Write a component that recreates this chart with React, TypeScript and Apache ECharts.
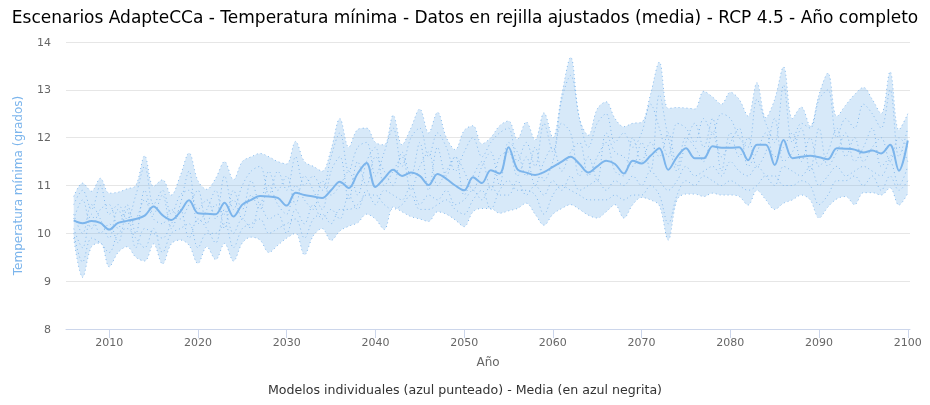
import React, { useEffect, useRef } from "react";
import * as echarts from "echarts";

const titleText = "Escenarios AdapteCCa - Temperatura mínima - Datos en rejilla ajustados (media) - RCP 4.5 - Año completo";
const yAxisTitle = "Temperatura mínima (grados)";
const xAxisTitle = "Año";
const footerText = "Modelos individuales (azul punteado) - Media (en azul negrita)";

const firstYear = 2006;
const xTickYears = [2010, 2020, 2030, 2040, 2050, 2060, 2070, 2080, 2090, 2100];

const mean = [
  10.27, 10.21, 10.26, 10.22, 10.08, 10.22, 10.26, 10.30, 10.37, 10.56,
  10.38, 10.28, 10.45, 10.69, 10.42, 10.41, 10.40, 10.64, 10.35, 10.60,
  10.70, 10.78, 10.77, 10.74, 10.58, 10.85, 10.80, 10.77, 10.74, 10.90,
  11.08, 10.95, 11.25, 11.47, 10.97, 11.15, 11.33, 11.20, 11.27, 11.20,
  11.01, 11.24, 11.14, 11.00, 10.90, 11.17, 11.05, 11.32, 11.25, 11.80,
  11.34, 11.27, 11.22, 11.28, 11.39, 11.50, 11.60, 11.45, 11.27, 11.40,
  11.52, 11.45, 11.25, 11.52, 11.46, 11.62, 11.78, 11.33, 11.60, 11.78,
  11.57, 11.57, 11.82, 11.79, 11.79, 11.80, 11.53, 11.85, 11.85, 11.43,
  11.95, 11.57, 11.60, 11.62, 11.59, 11.55, 11.78, 11.77, 11.75, 11.69,
  11.73, 11.67, 11.85, 11.31, 11.94,
];

const upper = [
  10.77, 11.05, 10.88, 11.15, 10.84, 10.86, 10.93, 11.00, 11.62, 10.98,
  11.12, 10.80, 11.20, 11.68, 11.10, 10.92, 11.15, 11.50, 11.12, 11.50,
  11.60, 11.67, 11.60, 11.50, 11.45, 11.92, 11.50, 11.40, 11.30, 11.75,
  12.40, 11.80, 12.17, 12.20, 11.90, 11.85, 12.47, 11.85, 12.20, 12.60,
  12.10, 12.53, 12.00, 11.75, 12.15, 12.25, 11.87, 12.00, 12.25, 12.35,
  11.97, 12.33, 11.95, 12.52, 12.00, 12.90, 13.68, 12.40, 12.05, 12.60,
  12.75, 12.40, 12.23, 12.30, 12.32, 12.90, 13.58, 12.61, 12.63, 12.62,
  12.60, 12.97, 12.85, 12.70, 12.95, 12.80, 12.45, 13.15, 12.42, 12.80,
  13.48, 12.40, 12.64, 12.24, 12.90, 13.35, 12.44, 12.68, 12.90, 13.05,
  12.80, 12.50, 13.38, 12.16, 12.50,
];

const lower = [
  9.90, 9.08, 9.72, 9.80, 9.30, 9.60, 9.72, 9.50, 9.42, 9.78,
  9.36, 9.78, 9.86, 9.75, 9.37, 9.72, 9.45, 9.79, 9.42, 9.80,
  9.92, 9.86, 9.60, 9.75, 9.90, 10.00, 9.55, 9.95, 10.10, 9.85,
  10.05, 10.15, 10.22, 10.40, 10.30, 10.08, 10.55, 10.45, 10.35, 10.30,
  10.25, 10.45, 10.40, 10.28, 10.14, 10.45, 10.52, 10.52, 10.42, 10.47,
  10.52, 10.63, 10.40, 10.17, 10.40, 10.52, 10.60, 10.50, 10.38, 10.32,
  10.45, 10.60, 10.32, 10.60, 10.75, 10.70, 10.58, 9.86, 10.70, 10.82,
  10.82, 10.77, 10.84, 10.80, 10.80, 10.77, 10.59, 10.90, 10.70, 10.50,
  10.63, 10.70, 10.80, 10.70, 10.32, 10.55, 10.72, 10.77, 10.60, 10.85,
  10.85, 10.80, 10.95, 10.59, 10.84,
];

const modelA = [
  10.6, 10.9, 10.5, 11.0, 10.4, 10.6, 10.3, 10.8, 11.4, 10.6,
  10.9, 10.4, 10.8, 10.9, 10.5, 10.7, 10.3, 11.2, 10.5, 11.0,
  11.3, 11.4, 10.8, 11.3, 10.9, 11.6, 11.0, 11.2, 10.9, 11.6,
  12.1, 11.3, 11.8, 11.9, 11.2, 11.7, 12.2, 11.4, 12.0, 12.2,
  11.6, 12.1, 11.8, 11.3, 11.7, 12.0, 11.6, 11.9, 12.1, 12.2,
  11.5, 11.9, 11.4, 12.3, 11.7, 12.8, 13.3, 12.4, 11.8, 12.3,
  12.5, 11.9, 12.1, 11.8, 12.1, 12.7, 12.2, 11.6, 12.3, 12.2,
  11.9, 12.4, 12.1, 12.5, 12.4, 12.0, 11.8, 12.8, 12.3, 11.9,
  13.1, 11.9, 12.3, 12.2, 12.8, 13.0, 12.0, 12.4, 12.2, 12.7,
  12.5, 12.2, 13.0, 11.6, 12.2,
];

const modelB = [
  10.0, 9.4, 9.9, 9.8, 9.6, 10.0, 10.1, 9.9, 9.7, 10.1,
  9.6, 10.0, 10.1, 10.2, 9.7, 10.0, 10.0, 10.2, 9.7, 10.1,
  10.2, 10.3, 10.0, 10.1, 10.2, 10.3, 9.9, 10.3, 10.4, 10.2,
  10.5, 10.5, 10.6, 10.8, 10.8, 10.6, 10.5, 10.6, 10.8, 10.5,
  10.5, 10.6, 10.7, 10.5, 10.4, 10.7, 10.9, 10.5, 10.9, 11.1,
  10.9, 10.9, 10.8, 10.4, 10.8, 11.0, 10.9, 10.8, 10.7, 10.7,
  10.7, 10.8, 10.7, 10.8, 10.8, 11.0, 10.8, 10.2, 10.8, 11.1,
  11.0, 11.2, 11.1, 11.0, 11.1, 11.0, 10.9, 11.0, 11.2, 11.2,
  11.0, 11.0, 11.1, 11.0, 10.6, 10.8, 11.1, 11.1, 11.2, 11.0,
  11.2, 10.9, 11.2, 10.9, 11.1,
];

const modelC = [
  10.4, 10.0, 10.6, 10.3, 9.9, 10.5, 10.2, 10.3, 10.7, 10.3,
  10.2, 10.5, 10.3, 10.6, 10.9, 10.2, 10.6, 10.4, 10.7, 10.3,
  10.8, 10.5, 11.0, 10.6, 10.4, 11.0, 10.7, 10.5, 11.1, 10.8,
  11.0, 11.3, 10.8, 11.5, 11.8, 11.0, 11.3, 11.6, 10.9, 11.4,
  11.7, 11.0, 11.3, 11.6, 10.8, 11.2, 11.5, 10.9, 11.6, 11.7,
  11.2, 11.6, 11.0, 11.5, 11.8, 11.3, 11.7, 11.9, 11.2, 11.6,
  11.9, 11.3, 11.2, 12.0, 11.5, 11.9, 11.6, 12.1, 11.4, 12.0,
  11.8, 11.5, 12.1, 11.6, 11.9, 12.2, 11.4, 11.7, 12.1, 11.6,
  11.8, 12.1, 11.5, 12.0, 11.4, 11.7, 12.2, 11.6, 12.0, 11.5,
  11.8, 12.0, 11.5, 12.0, 11.8,
];

const modelD = [
  10.3, 10.7, 10.1, 10.5, 10.6, 10.1, 10.6, 10.0, 10.9, 10.4,
  10.8, 10.1, 10.6, 11.3, 10.2, 10.5, 10.9, 10.1, 10.9, 10.5,
  11.1, 10.6, 11.3, 10.9, 11.2, 10.6, 11.2, 10.9, 10.5, 11.3,
  11.6, 10.7, 11.5, 11.0, 11.6, 11.3, 11.0, 11.7, 11.2, 11.9,
  10.9, 11.8, 11.2, 11.6, 11.3, 10.9, 11.4, 11.7, 11.0, 11.9,
  11.7, 11.2, 11.8, 11.1, 11.5, 12.3, 12.1, 11.2, 11.6, 11.1,
  12.1, 11.7, 11.6, 11.4, 11.9, 11.3, 12.9, 12.0, 11.3, 11.9,
  12.3, 11.8, 12.4, 11.3, 12.1, 11.6, 12.0, 11.4, 11.7, 12.4,
  11.5, 11.7, 12.2, 11.3, 12.2, 11.4, 11.7, 12.1, 11.5, 11.8,
  12.2, 11.4, 11.6, 11.8, 11.5,
];

const modelE = [
  10.1, 9.7, 10.4, 10.0, 10.2, 9.8, 10.5, 9.7, 10.1, 10.0,
  9.9, 10.2, 10.5, 9.9, 10.3, 10.1, 9.8, 10.5, 10.0, 10.3,
  10.1, 10.6, 10.3, 10.4, 10.0, 10.5, 10.2, 10.6, 10.3, 10.5,
  10.3, 10.8, 10.5, 10.9, 10.6, 10.9, 10.8, 10.7, 11.0, 10.6,
  10.8, 10.7, 10.9, 10.6, 10.7, 10.9, 10.7, 11.0, 10.8, 10.8,
  11.1, 10.8, 11.0, 10.8, 11.1, 10.9, 11.2, 10.9, 11.0, 11.1,
  10.9, 11.1, 11.0, 11.2, 11.0, 11.3, 11.1, 10.9, 11.1, 11.4,
  11.2, 11.3, 11.4, 11.2, 11.5, 11.3, 11.2, 11.4, 11.2, 11.0,
  11.4, 11.3, 11.2, 11.4, 11.0, 11.2, 11.4, 11.2, 11.3, 11.4,
  11.3, 11.2, 11.5, 11.0, 11.4,
];

const BLUE = "#7cb5ec";
const SMOOTH = 0.35;

function pairs(arr: number[]) {
  return arr.map((v, i) => [firstYear + i, v]);
}
// value first so that stacking happens on the value (y) dimension
function pairsYX(arr: number[]) {
  return arr.map((v, i) => [v, firstYear + i]);
}

export default function App() {
  const ref = useRef<HTMLDivElement>(null);
  useEffect(() => {
    if (!ref.current) return;
    const chart = echarts.init(ref.current, null, { renderer: "svg" });
    const bandHeight = upper.map((u, i) => +(u - lower[i]).toFixed(2));
    const dotted = (name: string, arr: number[]) => ({
      name,
      type: "line",
      data: pairs(arr),
      smooth: SMOOTH,
      symbol: "none",
      silent: true,
      lineStyle: { color: BLUE, width: 1, type: [1, 3], opacity: 0.9 },
      z: 3,
    });
    chart.setOption({
      animation: false,
      title: {
        text: titleText,
        left: "center",
        top: 3,
        textStyle: { fontFamily: "DejaVu Sans", fontSize: 17, fontWeight: "normal", color: "#000" },
      },
      grid: { left: 66, right: 20, top: 42, bottom: 76, containLabel: false },
      xAxis: {
        type: "value",
        min: 2005.13,
        max: 2100.25,
        name: xAxisTitle,
        nameLocation: "middle",
        nameGap: 27,
        nameTextStyle: { color: "#666", fontSize: 12, fontFamily: "DejaVu Sans" },
        axisLine: { show: true, lineStyle: { color: "#ccd6eb" } },
        axisTick: { show: true, length: 9, customValues: xTickYears, lineStyle: { color: "#ccd6eb" } },
        axisLabel: {
          customValues: xTickYears,
          color: "#666",
          fontSize: 11,
          fontFamily: "DejaVu Sans",
          margin: 8,
          formatter: (v: number) => String(v),
        },
        splitLine: { show: false },
      },
      yAxis: {
        type: "value",
        min: 8,
        max: 14,
        interval: 1,
        name: yAxisTitle,
        nameLocation: "middle",
        nameGap: 42,
        nameTextStyle: { color: BLUE, fontSize: 12, fontFamily: "DejaVu Sans" },
        axisLine: { show: false },
        axisTick: { show: false },
        axisLabel: { color: "#666", fontSize: 11, fontFamily: "DejaVu Sans", margin: 15 },
        splitLine: { lineStyle: { color: "#e6e6e6" } },
      },
      graphic: [
        {
          type: "text",
          left: "center",
          top: 383,
          style: { text: footerText, fill: "#333", fontSize: 12.6, fontFamily: "DejaVu Sans" },
        },
      ],
      series: [
        {
          name: "base",
          type: "line",
          stack: "band",
          data: pairsYX(lower),
          encode: { x: 1, y: 0 },
          smooth: SMOOTH,
          symbol: "none",
          silent: true,
          lineStyle: { opacity: 0 },
          z: 1,
        },
        {
          name: "rango",
          type: "line",
          stack: "band",
          data: pairsYX(bandHeight),
          encode: { x: 1, y: 0 },
          smooth: SMOOTH,
          symbol: "none",
          silent: true,
          lineStyle: { opacity: 0 },
          areaStyle: { color: BLUE, opacity: 0.3 },
          z: 1,
        },
        dotted("max", upper),
        dotted("min", lower),
        dotted("A", modelA),
        dotted("B", modelB),
        dotted("C", modelC),
        dotted("D", modelD),
        dotted("E", modelE),
        {
          name: "Media",
          type: "line",
          data: pairs(mean),
          smooth: SMOOTH,
          symbol: "none",
          silent: true,
          lineStyle: { color: BLUE, width: 2 },
          z: 5,
        },
      ],
    });
    return () => chart.dispose();
  }, []);
  return <div ref={ref} style={{ position: "fixed", left: 0, top: 0, width: 930, height: 405 }} />;
}
